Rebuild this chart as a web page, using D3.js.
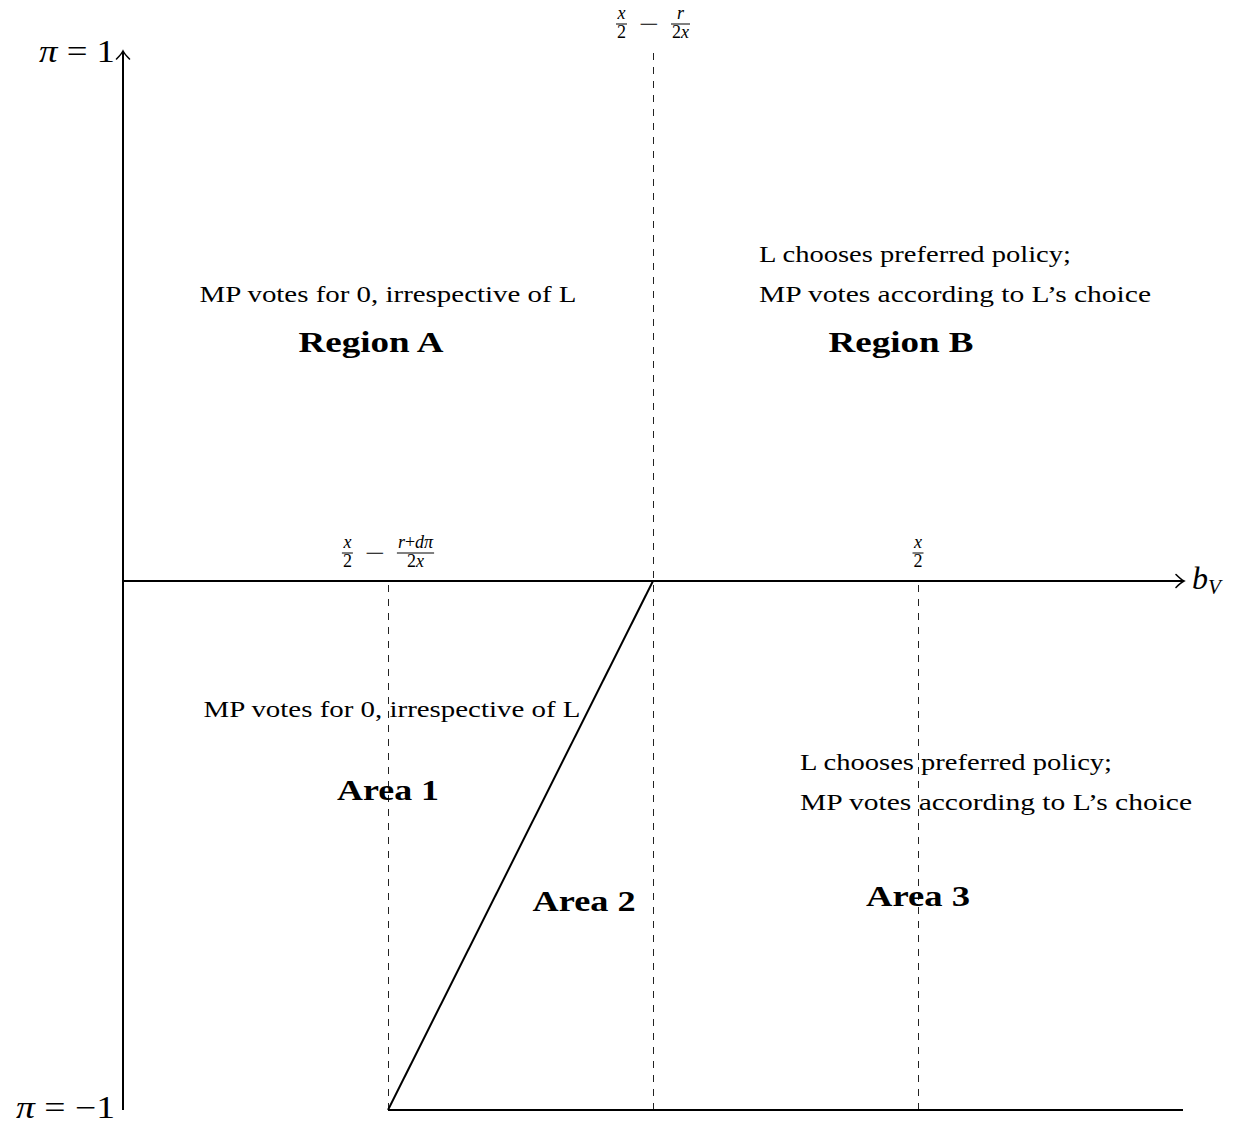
<!DOCTYPE html>
<html>
<head>
<meta charset="utf-8">
<script src="https://cdn.jsdelivr.net/npm/d3@7"></script>
<style>
  html, body { margin: 0; padding: 0; background: #fff; }
  svg { display: block; }
  text { font-family: "Liberation Serif", "Times New Roman", serif; fill: #000; }
</style>
</head>
<body>
<script>
// Horizontal axis: b_V, vertical axis: pi in [-1, 1]
const bvDomain = [0, 4];
const piDomain = [-1, 1];

// Boundary positions on the b_V axis
const lowCut = 1;   // x/2 - (r + d*pi)/(2x) at pi = -1
const midCut = 2;   // x/2 - r/(2x)
const highCut = 3;  // x/2

// Solid boundary: the pi-dependent cutoff, from (lowCut,-1) to (midCut,0)
const cutoffLine = [[lowCut, -1], [midCut, 0]];
// Floor of the lower panel
const floorLine = [[lowCut, -1], [4, -1]];

// Dashed guides: [b_V, pi from, pi to]
const guides = [
  [midCut, -1, 1],
  [lowCut, -1, 0],
  [highCut, -1, 0]
];

// Fraction labels; each term is a fraction {num, den} or an operator string
const topLabel = { at: midCut, terms: [{ num: "x", den: "2" }, "−", { num: "r", den: "2x" }] };
const axisLabels = [
  { at: lowCut, terms: [{ num: "x", den: "2" }, "−", { num: "r+dπ", den: "2x" }] },
  { at: highCut, terms: [{ num: "x", den: "2" }] }
];

// Region texts: lines, anchor point in (b_V, pi), alignment, bold flag, target width
const notes = [
  { lines: ["MP votes for 0, irrespective of L"], at: [1.0, 0.527], align: "middle", bold: false, widths: [377] },
  { lines: ["Region A"], at: [0.936, 0.433], align: "middle", bold: true, widths: [145] },
  { lines: ["L chooses preferred policy;", "MP votes according to L’s choice"], at: [2.4, 0.603], align: "start", bold: false, widths: [312, 392] },
  { lines: ["Region B"], at: [2.936, 0.433], align: "middle", bold: true, widths: [145] },
  { lines: ["MP votes for 0, irrespective of L"], at: [1.015, -0.257], align: "middle", bold: false, widths: [377] },
  { lines: ["Area 1"], at: [1.0, -0.414], align: "middle", bold: true, widths: [102] },
  { lines: ["Area 2"], at: [1.74, -0.624], align: "middle", bold: true, widths: [103] },
  { lines: ["L chooses preferred policy;", "MP votes according to L’s choice"], at: [2.555, -0.357], align: "start", bold: false, widths: [312, 392] },
  { lines: ["Area 3"], at: [3.0, -0.614], align: "middle", bold: true, widths: [104] }
];

const W = 1238, H = 1126;
const svg = d3.select("body").append("svg").attr("width", W).attr("height", H);

const x = d3.scaleLinear().domain(bvDomain).range([123, 1183]);
const y = d3.scaleLinear().domain(piDomain).range([1110, 52]);
const line = d3.line().x(d => x(d[0])).y(d => y(d[1]));

// Dashed guides (half-pixel offset keeps the thin strokes crisp)
svg.append("g").selectAll("line").data(guides).join("line")
  .attr("x1", d => Math.round(x(d[0])) + 0.5).attr("x2", d => Math.round(x(d[0])) + 0.5)
  .attr("y1", d => y(d[1])).attr("y2", d => y(d[2]))
  .attr("stroke", "#222").attr("stroke-width", 1)
  .attr("stroke-dasharray", "7,7");

// Axes and solid boundaries
const axisG = svg.append("g").attr("stroke", "#000").attr("stroke-width", 2).attr("fill", "none");
axisG.append("path").attr("d", line([[0, -1], [0, 1]]));
axisG.append("path").attr("d", line([[0, 0], [4, 0]]));
axisG.append("path").attr("d", line(floorLine));
axisG.append("path").attr("d", line(cutoffLine));

// Arrow tips in TikZ "to" style
function arrowTip(tx, ty, dir) {
  const p = dir === "right"
    ? `M${tx - 8},${ty - 6.5} Q${tx - 3},${ty - 1.5} ${tx},${ty} Q${tx - 3},${ty + 1.5} ${tx - 8},${ty + 6.5}`
    : `M${tx - 6.5},${ty + 8} Q${tx - 1.5},${ty + 3} ${tx},${ty} Q${tx + 1.5},${ty + 3} ${tx + 6.5},${ty + 8}`;
  axisG.append("path").attr("d", p).attr("stroke-width", 1.6).attr("stroke-linecap", "round");
}
arrowTip(x(4) + 1, y(0), "right");
arrowTip(x(0), y(1) - 1, "up");

// Fraction rendering
const fracSize = 18;
function mathText(g, str, size) {
  const t = g.append("text").attr("font-size", size);
  // Letters in italic, digits and operators upright
  const parts = str.match(/[A-Za-zπ]+|[^A-Za-zπ]+/g) || [];
  parts.forEach(p => {
    t.append("tspan").text(p).attr("font-style", /[A-Za-zπ]/.test(p) ? "italic" : "normal");
  });
  return t;
}

function drawTerms(label, barY) {
  const g = svg.append("g");
  const items = [];
  label.terms.forEach(term => {
    const ig = g.append("g");
    if (typeof term === "string") {
      const t = ig.append("text").text(term).attr("font-size", 24)
        .attr("textLength", 20).attr("lengthAdjust", "spacingAndGlyphs")
        .attr("y", barY + 7.5);
      items.push({ g: ig, w: 20, node: t });
    } else {
      const n = mathText(ig, term.num, fracSize).attr("text-anchor", "middle").attr("y", barY - 5);
      const d = mathText(ig, term.den, fracSize).attr("text-anchor", "middle").attr("y", barY + 14);
      const w = Math.max(n.node().getComputedTextLength(), d.node().getComputedTextLength()) + 2;
      ig.append("line").attr("x1", -w / 2).attr("x2", w / 2).attr("y1", barY).attr("y2", barY)
        .attr("stroke", "#000").attr("stroke-width", 1);
      items.push({ g: ig, w, frac: true });
    }
  });
  const gap = 12;
  const total = d3.sum(items, d => d.w) + gap * (items.length - 1);
  let cx = x(label.at) - total / 2;
  items.forEach(it => {
    if (it.frac) it.g.attr("transform", `translate(${cx + it.w / 2},0)`);
    else it.node.attr("x", cx);
    cx += it.w + gap;
  });
}
drawTerms(topLabel, 24);
axisLabels.forEach(l => drawTerms(l, y(0) - 28));

// Axis end labels
svg.append("text").attr("x", x(0) - 8).attr("y", y(1) + 10).attr("font-size", 31)
  .attr("text-anchor", "end").attr("textLength", 76).attr("lengthAdjust", "spacingAndGlyphs")
  .call(t => { t.append("tspan").attr("font-style", "italic").text("π"); t.append("tspan").text(" = 1"); });
svg.append("text").attr("x", x(0) - 8).attr("y", y(-1) + 8).attr("font-size", 31)
  .attr("text-anchor", "end").attr("textLength", 99).attr("lengthAdjust", "spacingAndGlyphs")
  .call(t => { t.append("tspan").attr("font-style", "italic").text("π"); t.append("tspan").text(" = −1"); });
svg.append("text").attr("x", x(4) + 9).attr("y", y(0) + 8).attr("font-size", 32)
  .call(t => {
    t.append("tspan").attr("font-style", "italic").text("b");
    t.append("tspan").attr("font-style", "italic").attr("font-size", 21).attr("dy", 5).text("V");
  });

// Region and area annotations
notes.forEach(n => {
  n.lines.forEach((ln, i) => {
    svg.append("text")
      .attr("x", x(n.at[0]))
      .attr("y", y(n.at[1]) + i * 40)
      .attr("text-anchor", n.align)
      .attr("font-size", n.bold ? 29 : 24)
      .attr("font-weight", n.bold ? "bold" : "normal")
      .attr("textLength", n.widths[i])
      .attr("lengthAdjust", "spacingAndGlyphs")
      .text(ln);
  });
});
</script>
</body>
</html>
